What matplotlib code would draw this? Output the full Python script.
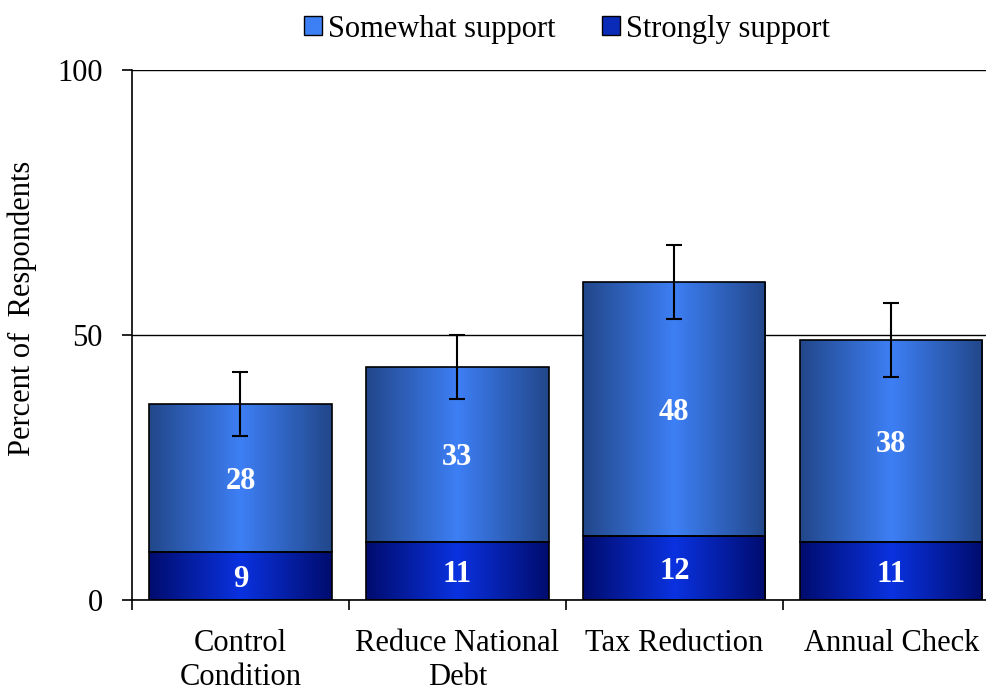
import matplotlib.pyplot as plt
import numpy as np
from matplotlib.colors import LinearSegmentedColormap
from matplotlib.patches import Patch

categories = ["Control\nCondition", "Reduce National\nDebt", "Tax Reduction", "Annual Check"]
strongly = [9, 11, 12, 11]
somewhat = [28, 33, 48, 38]
err = [6, 6, 7, 7]

plt.rcParams['font.family'] = ['Liberation Serif', 'DejaVu Serif']

fig = plt.figure(figsize=(9.86, 6.92), dpi=100)
ax = fig.add_axes([0.1339, 0.133, 0.880, 0.766])

x = np.arange(len(categories))
width = 0.84

cmap_some = LinearSegmentedColormap.from_list("some", ["#22478a", "#3d7ff5", "#22478a"])
cmap_strong = LinearSegmentedColormap.from_list("strong", ["#000c6e", "#0a32e0", "#000c6e"])
grad = np.linspace(0, 1, 256).reshape(1, -1)

ax.set_xlim(-0.5, len(categories) - 0.5)
ax.set_ylim(0, 100)

totals = np.array(strongly) + np.array(somewhat)
for i in range(len(categories)):
    b1 = ax.bar(x[i], strongly[i], width, facecolor="none", edgecolor="black", linewidth=1.2, zorder=3)
    b2 = ax.bar(x[i], somewhat[i], width, bottom=strongly[i], facecolor="none", edgecolor="black",
                linewidth=1.2, zorder=3)
    for bar, cm in ((b1[0], cmap_strong), (b2[0], cmap_some)):
        x0, y0 = bar.get_x(), bar.get_y()
        im = ax.imshow(grad, cmap=cm, aspect="auto", zorder=2,
                       extent=[x0, x0 + bar.get_width(), y0, y0 + bar.get_height()])
        im.set_clip_path(bar)
    ax.text(x[i], strongly[i] / 2, str(strongly[i]), ha="center", va="center_baseline",
            color="white", fontsize=22, fontweight="bold", zorder=5)
    ax.text(x[i], strongly[i] + somewhat[i] / 2, str(somewhat[i]), ha="center", va="center_baseline",
            color="white", fontsize=22, fontweight="bold", zorder=5)
    ax.errorbar(x[i], totals[i], yerr=err[i], color="black", capsize=6, capthick=1.5,
                elinewidth=1.5, zorder=6)

ax.set_yticks([0, 50, 100])
ax.tick_params(axis="y", labelsize=22, direction="out", length=7, width=1.2, pad=14)
ax.set_xticks(x)
ax.set_xticklabels(categories, linespacing=1.2)
ax.tick_params(axis="x", which="major", length=0, labelsize=22, pad=21)
ax.set_xticks(np.arange(len(categories) + 1) - 0.5, minor=True)
ax.tick_params(axis="x", which="minor", length=7, width=1.2, direction="out")
ax.grid(axis="y", color="black", linewidth=1, zorder=0)
ax.set_axisbelow(True)
for s in ["top", "right"]:
    ax.spines[s].set_visible(False)
ax.spines["left"].set_linewidth(1.2)
ax.spines["bottom"].set_linewidth(1.2)
ax.set_ylabel("Percent of  Respondents", fontsize=22)
ax.yaxis.set_label_coords(-0.11, 0.55)

handles = [Patch(facecolor="#3d7ff5", edgecolor="black"), Patch(facecolor="#0a2ab8", edgecolor="black")]
fig.legend(handles, ["Somewhat support", "Strongly support"], loc="center", bbox_to_anchor=(0.575, 0.958),
           ncol=2, frameon=False, fontsize=22, handlelength=0.6, handleheight=0.6, handletextpad=0.2,
           columnspacing=1.5)

fig.savefig("out.png", dpi=100)
